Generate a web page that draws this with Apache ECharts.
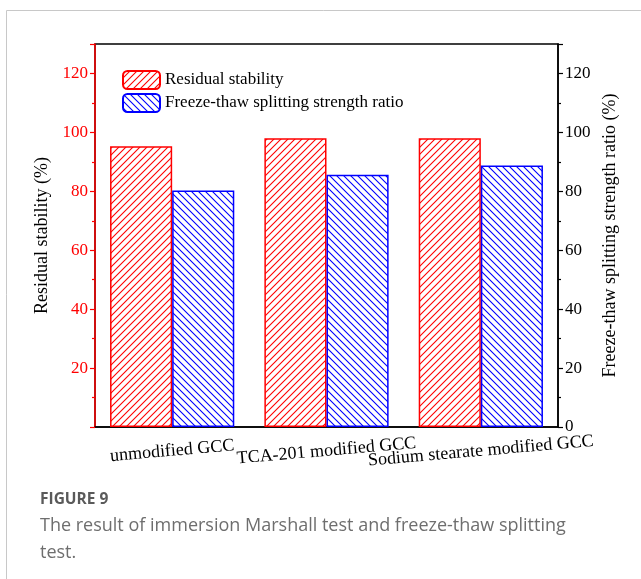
<!DOCTYPE html>
<html>
<head>
<meta charset="utf-8">
<script src="https://cdn.jsdelivr.net/npm/echarts@6/dist/echarts.min.js"></script>
<style>
html,body{margin:0;padding:0;background:#fff;}
#c{width:641px;height:579px;}
</style>
</head>
<body>
<div id="c"></div>
<script>
const categories = ['unmodified GCC', 'TCA-201 modified GCC', 'Sodium stearate modified GCC'];
const residualStability = [95.3, 98.0, 98.0];
const freezeThawRatio = [80.3, 85.6, 88.8];
const seriesNames = ['Residual stability', 'Freeze-thaw splitting strength ratio'];
const leftAxisTitle = 'Residual stability (%)';
const rightAxisTitle = 'Freeze-thaw splitting strength ratio (%)';
const captionTitle = 'FIGURE 9';
const captionLines = ['The result of immersion Marshall test and freeze-thaw splitting', 'test.'];

function hatch(color, forward) {
  const s = 7;
  const c = document.createElement('canvas');
  c.width = s; c.height = s;
  const g = c.getContext('2d');
  g.fillStyle = '#fff';
  g.fillRect(0, 0, s, s);
  g.strokeStyle = color;
  g.lineWidth = 1.1;
  g.beginPath();
  if (forward) {
    g.moveTo(-1, s + 1); g.lineTo(s + 1, -1);
    g.moveTo(-1, 1); g.lineTo(1, -1);
    g.moveTo(s - 1, s + 1); g.lineTo(s + 1, s - 1);
  } else {
    g.moveTo(-1, -1); g.lineTo(s + 1, s + 1);
    g.moveTo(s - 1, -1); g.lineTo(s + 1, 1);
    g.moveTo(-1, s - 1); g.lineTo(1, s + 1);
  }
  g.stroke();
  return { image: c, repeat: 'repeat' };
}

const serif = 'Liberation Serif';
const chart = echarts.init(document.getElementById('c'), null, { renderer: 'canvas' });

chart.setOption({
  backgroundColor: '#fff',
  animation: false,
  grid: { left: 95, right: 83, top: 44, bottom: 152, show: true, borderColor: '#000', borderWidth: 1.5, backgroundColor: 'transparent' },
  legend: {
    left: 117, top: 65, orient: 'vertical', itemWidth: 37, itemHeight: 18, itemGap: 3,
    textStyle: { fontFamily: serif, fontSize: 17, color: '#000' },
    data: seriesNames
  },
  xAxis: {
    type: 'category', data: categories,
    axisLine: { lineStyle: { color: '#000', width: 1.5 } },
    axisTick: { show: false },
    axisLabel: { rotate: 5, align: 'center', verticalAlign: 'middle', margin: 24, interval: 0,
      fontFamily: serif, fontSize: 18, color: '#000' }
  },
  yAxis: [
    {
      type: 'value', min: 0, max: 130, interval: 20, position: 'left',
      name: leftAxisTitle, nameLocation: 'middle', nameGap: 40,
      nameTextStyle: { fontFamily: serif, fontSize: 18, color: '#000' },
      axisLine: { show: true, lineStyle: { color: '#ff0000', width: 1.5 } },
      axisTick: { show: true, inside: false, length: 5, lineStyle: { color: '#ff0000', width: 1.2 } },
      minorTick: { show: true, splitNumber: 2, length: 3, lineStyle: { color: '#ff0000', width: 1.2 } },
      splitLine: { show: false },
      axisLabel: { showMinLabel: false, showMaxLabel: false, fontFamily: serif, fontSize: 17, color: '#ff0000', margin: 7 }
    },
    {
      type: 'value', min: 0, max: 130, interval: 20, position: 'right',
      name: rightAxisTitle, nameLocation: 'middle', nameGap: 40,
      nameTextStyle: { fontFamily: serif, fontSize: 18, color: '#000' },
      axisLine: { show: true, lineStyle: { color: '#000', width: 1.5 } },
      axisTick: { show: true, inside: false, length: 5, lineStyle: { color: '#000', width: 1.2 } },
      minorTick: { show: true, splitNumber: 2, length: 3, lineStyle: { color: '#000', width: 1.2 } },
      splitLine: { show: false },
      axisLabel: { showMaxLabel: false, fontFamily: serif, fontSize: 17, color: '#000', margin: 7 }
    }
  ],
  series: [
    {
      name: seriesNames[0], type: 'bar', yAxisIndex: 0, data: residualStability,
      barGap: '0%', barCategoryGap: '19.5%',
      itemStyle: { color: hatch('#ff0000', true), borderColor: '#ff0000', borderWidth: 1.5 }
    },
    {
      name: seriesNames[1], type: 'bar', yAxisIndex: 1, data: freezeThawRatio,
      barGap: '0%', barCategoryGap: '19.5%',
      itemStyle: { color: hatch('#0000ff', false), borderColor: '#0000ff', borderWidth: 1.5 }
    }
  ],
  graphic: [
    { type: 'polyline', silent: true, shape: { points: [[6.5, 579], [6.5, 10.5], [641, 10.5]] }, style: { stroke: '#c8c8c8', lineWidth: 1, fill: null } },
    { type: 'text', left: 40, top: 492, style: { text: captionTitle, fontFamily: 'Open Sans', fontWeight: 'bold', fontSize: 15.5, fill: '#5a5a5a' } },
    { type: 'text', left: 40, top: 512, style: { text: captionLines.join('\n'), lineHeight: 27, fontFamily: 'Open Sans', fontWeight: 'normal', fontSize: 18, fill: '#6e6e6e' } }
  ]
});
</script>
</body>
</html>
